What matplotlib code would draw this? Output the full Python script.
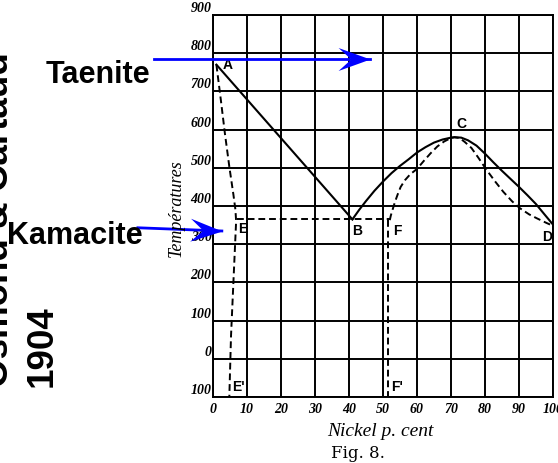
import numpy as np
import matplotlib
matplotlib.use("Agg")
import matplotlib.pyplot as plt
from matplotlib.path import Path
from matplotlib.markers import MarkerStyle
from matplotlib.transforms import Affine2D

# Fe-Ni diagram (Osmond & Cartaud 1904, fig. 8)
nickel_ticks = list(range(0, 101, 10))
temp_ticks = list(range(-100, 901, 100))
temp_labels = ["100", "0", "100", "200", "300", "400", "500", "600", "700", "800", "900"]

# solid line A -> B
ab_x = [1, 41]
ab_t = [770, 365]

# solid curve B -> C -> D
bcd_x = [41, 43, 45, 47.5, 50, 52.5, 55, 57.5, 60, 62.5, 65, 67.5, 70, 71,
         73, 75, 77.5, 80, 82.5, 85, 87.5, 90, 92.5, 95, 97.5, 100.5]
bcd_t = [365, 390, 413, 440, 464, 486, 505, 522, 540, 554, 566, 574, 579, 580,
         579, 572, 558, 537, 514, 492, 471, 450, 428, 405, 378, 346]

# dashed curve F -> C -> D
fcd_x = [52, 52.3, 52.8, 53.5, 54.3, 55.2, 56.5, 58, 60, 62, 64, 66, 68, 70, 71,
         72.5, 74, 76, 78, 80.5, 83, 85.4, 88, 90.3, 93, 95.2, 98, 100.5]
fcd_t = [363, 375, 390, 410, 430, 450, 468, 483, 497, 518, 538, 556, 569, 578, 580,
         578, 568, 552, 527, 494, 464, 437, 412, 394, 378, 368, 356, 346]

# dashed curve from A down to E'
ae_x = [1, 2.3, 3.5, 4.8, 6.0, 6.6, 6.8, 6.5, 6.0, 5.3, 4.8]
ae_t = [770, 678, 590, 503, 430, 390, 360, 300, 200, 60, -100]

# dashed E -> F level and F -> F'
ef_x = [7, 52]
ef_t = [365, 365]
ff_x = [51.6, 51.6]
ff_t = [363, -100]

point_names = ["A", "B", "C", "D", "E", "F", "E'", "F'"]
point_x = [4.3, 42.3, 73, 98.2, 8.7, 54.3, 7.4, 54.0]
point_t = [769, 335, 615, 318, 341, 335, -73, -75]

# blue arrows: (start x, start t), (tip x, tip t)
taenite_arrow = [(-17.4, 784), (46.2, 784)]
kamacite_arrow = [(-22.1, 343), (2.6, 334.6)]

fig = plt.figure(figsize=(5.58, 4.63), dpi=100)
ax = fig.add_axes([213 / 558, 1 - 397 / 463, 340 / 558, 382 / 463])
ax.set_xlim(0, 100)
ax.set_ylim(-100, 900)

tick_font = dict(family="Liberation Serif", style="italic", weight="bold", size=10)
ax.set_xticks(nickel_ticks, [str(v) for v in nickel_ticks], **tick_font)
ax.set_yticks(temp_ticks, temp_labels, va="bottom", **tick_font)
ax.tick_params(axis="x", length=0, pad=4)
ax.tick_params(axis="y", length=0, pad=1)
ax.grid(True, color="black", lw=1.4)
for s in ax.spines.values():
    s.set_linewidth(1.4)

ax.plot(ab_x, ab_t, color="black", lw=1.5)
ax.plot(bcd_x, bcd_t, color="black", lw=1.5)
dash = dict(color="black", lw=1.4, ls=(0, (3.5, 2)))
ax.plot(fcd_x, fcd_t, **dash)
ax.plot(ae_x, ae_t, **dash)
ax.plot(ef_x, ef_t, **dash)
ax.plot(ff_x, ff_t, **dash)

for name, x, t in zip(point_names, point_x, point_t):
    ax.text(x, t, name, ha="center", va="center", family="Liberation Sans",
            weight="bold", fontsize=10)

# notched arrow head, tip at origin
head = Path([(0, 0), (-1, 0.36), (-0.6, 0), (-1, -0.36), (0, 0)],
            [Path.MOVETO, Path.LINETO, Path.LINETO, Path.LINETO, Path.CLOSEPOLY])
for (x0, t0), (x1, t1), ang in [(taenite_arrow[0], taenite_arrow[1], 0),
                                (kamacite_arrow[0], kamacite_arrow[1], -2.3)]:
    ax.plot([x0, x1], [t0, t1], color="blue", lw=2, clip_on=False, zorder=5)
    m = MarkerStyle(head, transform=Affine2D().rotate_deg(ang))
    ax.plot([x1], [t1], marker=m, ms=46, color="blue", mew=0, clip_on=False, zorder=5)

fig.text(46 / 558, 1 - 83 / 463, "Taenite", family="Liberation Sans", weight="bold",
         fontsize=22, ha="left", va="baseline")
fig.text(7 / 558, 1 - 244 / 463, "Kamacite", family="Liberation Sans", weight="bold",
         fontsize=22, ha="left", va="baseline")

# vertical credit, two lines anchored on their baselines
credit = dict(family="Liberation Sans", weight="bold", fontsize=26.5, rotation=90,
              rotation_mode="anchor", ha="left", va="baseline")
fig.text(8 / 558, 1 - 387 / 463, "Osmond & Cartaud", **credit)
fig.text(52 / 558, 1 - 387 / 463, "1904", **credit)

fig.text(176 / 558, 1 - 208 / 463, "Températures", family="Liberation Serif",
         style="italic", fontsize=13, rotation=90, ha="center", va="center")
fig.text(380 / 558, 1 - 431 / 463, "Nickel p. cent", family="Liberation Serif",
         style="italic", fontsize=14, ha="center", va="center")
fig.text(358 / 558, 1 - 453 / 463, "Fig. 8.", family="DejaVu Serif",
         fontsize=12, ha="center", va="center")

fig.savefig("out.png", dpi=100)
